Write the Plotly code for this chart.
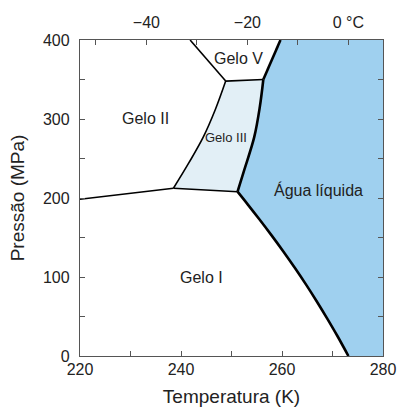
import plotly.graph_objects as go

# ---- data ----
# Ice I / liquid melting curve (K, MPa)
melt_I_T = [273.15, 271.0, 268.9, 266.8, 264.8, 262.6, 260.3, 257.9, 255.4, 253.2, 251.2]
melt_I_P = [0, 25, 48, 70, 90, 111, 132, 153, 174, 192, 208]
# Ice III / liquid
melt_III_T = [251.2, 252.5, 254.5, 255.6, 256.3]
melt_III_P = [208, 235, 277, 315, 350]
# Ice V / liquid
melt_V_T = [256.3, 259.7]
melt_V_P = [350, 400]
# Ice I / Ice II
b_I_II_T = [220.0, 238.5]
b_I_II_P = [198.4, 212.3]
# Ice I / Ice III
b_I_III_T = [238.5, 251.2]
b_I_III_P = [212.3, 208]
# Ice II / Ice III
b_II_III_T = [238.5, 241.6, 244.4, 246.8, 248.85]
b_II_III_P = [212.3, 245, 277, 312, 348]
# Ice III / Ice V
b_III_V_T = [248.85, 256.3]
b_III_V_P = [348, 350]
# Ice II / Ice V
b_II_V_T = [248.85, 241.8]
b_II_V_P = [348, 400]

labels = ["Gelo V", "Gelo II", "Gelo III", "Água líquida", "Gelo I"]
label_T = [251.3, 232.9, 249.0, 267.3, 244.0]
label_P = [377, 301, 277, 210, 100]
label_size = [16, 16, 13, 16, 16]

x_ticks = [220, 230, 240, 250, 260, 270, 280]
x_ticktext = ["220", "", "240", "", "260", "", "280"]
c_ticks = [-50, -40, -30, -20, -10, 0]
c_ticktext = ["", "−40", "", "−20", "", "0 °C"]
y_ticks = [0, 50, 100, 150, 200, 250, 300, 350, 400]
y_ticktext = ["0", "", "100", "", "200", "", "300", "", "400"]

T_MIN, T_MAX = 220, 280
P_MIN, P_MAX = 0, 400
K0 = 273.15

LIQ = "#9fd0ef"
ICE3 = "#e2eff6"
FONT = "Liberation Sans, Arial, sans-serif"
TXT = "#222222"
AX = "#555555"

fig = go.Figure()

# liquid region fill
liq_T = melt_I_T + melt_III_T[1:] + melt_V_T[1:] + [T_MAX, T_MAX]
liq_P = melt_I_P + melt_III_P[1:] + melt_V_P[1:] + [P_MAX, P_MIN]
fig.add_trace(go.Scatter(x=liq_T, y=liq_P, fill="toself", fillcolor=LIQ,
                         mode="lines", line=dict(width=0), hoverinfo="skip",
                         showlegend=False))

# ice III region fill
ice3_T = b_I_III_T + melt_III_T[1:] + list(reversed(b_III_V_T))[1:] + list(reversed(b_II_III_T))[1:]
ice3_P = b_I_III_P + melt_III_P[1:] + list(reversed(b_III_V_P))[1:] + list(reversed(b_II_III_P))[1:]
fig.add_trace(go.Scatter(x=ice3_T, y=ice3_P, fill="toself", fillcolor=ICE3,
                         mode="lines", line=dict(width=0), hoverinfo="skip",
                         showlegend=False))

thin = [(b_I_II_T, b_I_II_P), (b_I_III_T, b_I_III_P), (b_II_III_T, b_II_III_P),
        (b_III_V_T, b_III_V_P), (b_II_V_T, b_II_V_P)]
for t, p in thin:
    fig.add_trace(go.Scatter(x=t, y=p, mode="lines",
                             line=dict(color="black", width=1.6, shape="spline"),
                             hoverinfo="skip", showlegend=False))

thick = [(melt_I_T, melt_I_P), (melt_III_T, melt_III_P), (melt_V_T, melt_V_P)]
for t, p in thick:
    fig.add_trace(go.Scatter(x=t, y=p, mode="lines",
                             line=dict(color="black", width=2.6, shape="spline"),
                             hoverinfo="skip", showlegend=False))

# invisible trace to anchor the Celsius axis
fig.add_trace(go.Scatter(x=[T_MIN - K0], y=[P_MIN], xaxis="x2", mode="markers",
                         marker=dict(opacity=0), hoverinfo="skip", showlegend=False))

for txt, t, p, s in zip(labels, label_T, label_P, label_size):
    fig.add_annotation(x=t, y=p, text=txt, showarrow=False,
                       font=dict(family=FONT, size=s, color=TXT))

fig.update_layout(
    width=397, height=407,
    margin=dict(l=80, r=14, t=40, b=51),
    paper_bgcolor="white", plot_bgcolor="white",
    font=dict(family=FONT, size=16, color=TXT),
    hovermode=False,
    xaxis=dict(range=[T_MIN, T_MAX], tickvals=x_ticks, ticktext=x_ticktext,
               ticks="inside", ticklen=5, tickcolor=AX, showline=True,
               linecolor=AX, linewidth=1.3, showgrid=False, zeroline=False,
               automargin=False, ticklabelstandoff=-1,
               title=dict(text="Temperatura (K)", standoff=15),
               tickfont=dict(size=16, color=TXT)),
    xaxis2=dict(range=[T_MIN - K0, T_MAX - K0], overlaying="x", side="top",
                tickvals=c_ticks, ticktext=c_ticktext, ticks="inside",
                ticklen=5, tickcolor=AX, showline=True, linecolor=AX,
                linewidth=1.3, showgrid=False, zeroline=False,
                automargin=False, ticklabelstandoff=4,
                tickfont=dict(size=16, color=TXT)),
    yaxis=dict(range=[P_MIN, P_MAX], tickvals=y_ticks, ticktext=y_ticktext,
               ticks="inside", ticklen=5, tickcolor=AX, showline=True,
               linecolor=AX, linewidth=1.3, mirror="ticks", showgrid=False,
               zeroline=False, automargin=False, ticklabelstandoff=6,
               title=dict(text="Pressão (MPa)", standoff=13),
               tickfont=dict(size=16, color=TXT)),
)

fig.write_html(
    "out.html",
    config={"displayModeBar": False},
    post_script="document.body.style.margin='0';document.body.style.overflow='hidden';",
)
